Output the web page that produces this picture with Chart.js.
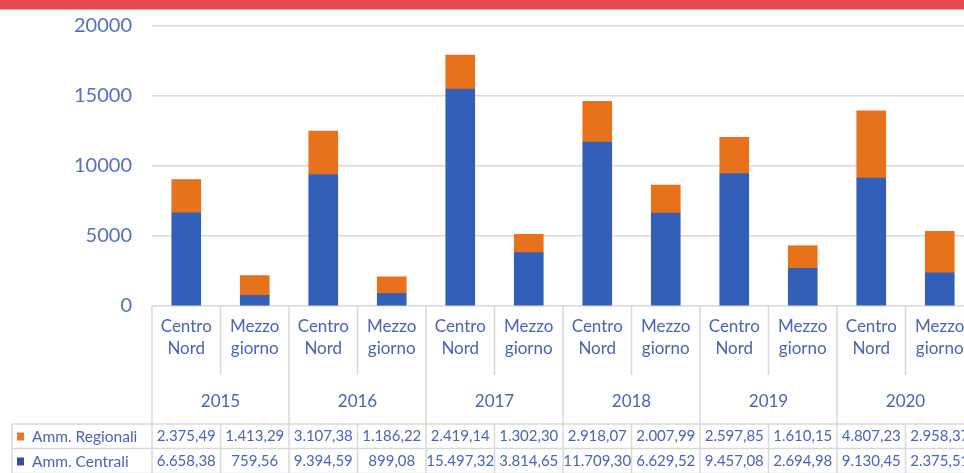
<!DOCTYPE html>
<html>
<head>
<meta charset="utf-8">
<script src="https://cdn.jsdelivr.net/npm/chart.js@4"></script>
<style>
  html, body { margin: 0; padding: 0; background: #fff; width: 964px; height: 473px; overflow: hidden; position: relative; }
  #banner { position: absolute; left: 0; top: 0; width: 964px; height: 9px; background: #E8464F; border-bottom: 1px solid #F2A2A6; z-index: 2; }
  #c { position: absolute; left: 0; top: 0; }
</style>
</head>
<body>
<div id="banner"></div>
<canvas id="c" width="980" height="473" style="width:980px;height:473px"></canvas>
<script>
const years = ['2015', '2016', '2017', '2018', '2019', '2020'];
const regions = [['Centro', 'Nord'], ['Mezzo', 'giorno']];
const seriesNames = ['Amm. Regionali', 'Amm. Centrali'];
// order: 2015 CN, 2015 MG, 2016 CN, 2016 MG, ...
const regionali = [2375.49, 1413.29, 3107.38, 1186.22, 2419.14, 1302.30, 2918.07, 2007.99, 2597.85, 1610.15, 4807.23, 2958.37];
const centrali  = [6658.38, 759.56, 9394.59, 899.08, 15497.32, 3814.65, 11709.30, 6629.52, 9457.08, 2694.98, 9130.45, 2375.51];
const yTicks = [0, 5000, 10000, 15000, 20000];

const categories = [];
years.forEach(y => regions.forEach(r => categories.push(r)));

const TEXT = '#4A64B6';
const GRID = '#D9D9D9';
const BLUE = '#3260B8';
const ORANGE = '#E8721C';

function fmt(v) {
  const parts = v.toFixed(2).split('.');
  return parts[0].replace(/\B(?=(\d{3})+(?!\d))/g, '.') + ',' + parts[1];
}

const layoutPlugin = {
  id: 'layoutPlugin',
  afterDraw(chart) {
    const ctx = chart.ctx;
    const xs = chart.scales.x;
    const area = chart.chartArea;
    const n = categories.length;
    const half = (xs.getPixelForValue(1) - xs.getPixelForValue(0)) / 2;
    const B = area.bottom;
    const tableTop = 424, row2 = 448.5, tableBottom = 474;
    const left = 12;
    const right = xs.getPixelForValue(n - 1) + half;

    ctx.save();
    ctx.strokeStyle = GRID;
    ctx.lineWidth = 1.5;
    const line = (x1, y1, x2, y2) => { ctx.beginPath(); ctx.moveTo(x1, y1); ctx.lineTo(x2, y2); ctx.stroke(); };

    for (let i = 0; i <= n; i++) {
      const px = i < n ? xs.getPixelForValue(i) - half : right;
      if (i % 2 === 0) {
        line(px, B, px, tableBottom);
      } else {
        line(px, B, px, 375);
        line(px, tableTop, px, tableBottom);
      }
    }
    line(left, tableTop, left, tableBottom);
    line(left, tableTop, right, tableTop);
    line(left, row2, right, row2);
    line(left, tableBottom - 0.5, right, tableBottom - 0.5);

    // category labels
    ctx.fillStyle = TEXT;
    ctx.textAlign = 'center';
    ctx.textBaseline = 'middle';
    ctx.font = '17px Lato';
    categories.forEach((lbl, i) => {
      const cx = xs.getPixelForValue(i);
      ctx.fillText(lbl[0], cx, 327);
      ctx.fillText(lbl[1], cx, 349);
    });
    // year labels
    years.forEach((y, j) => {
      const cx = (xs.getPixelForValue(2 * j) + xs.getPixelForValue(2 * j + 1)) / 2;
      ctx.fillText(y, cx, 402);
    });

    // data table
    const rows = [regionali, centrali];
    const rowY = [436.5, 461.5];
    const swatch = ['#E27A2A', '#34508F'];
    ctx.font = '15px Lato';
    rows.forEach((vals, r) => {
      vals.forEach((v, i) => {
        ctx.fillText(fmt(v), xs.getPixelForValue(i), rowY[r]);
      });
    });
    ctx.textAlign = 'left';
    ctx.font = '15.5px Lato';
    seriesNames.forEach((s, r) => {
      ctx.fillStyle = swatch[r];
      ctx.fillRect(17, rowY[r] - 4, 7, 8);
      ctx.fillStyle = TEXT;
      ctx.fillText(s, 32, rowY[r]);
    });
    ctx.restore();
  }
};

new Chart(document.getElementById('c'), {
  type: 'bar',
  data: {
    labels: categories.map((c, i) => years[Math.floor(i / 2)] + ' ' + c.join('')),
    datasets: [
      { label: seriesNames[1], data: centrali, backgroundColor: BLUE, barThickness: 29, borderWidth: 0 },
      { label: seriesNames[0], data: regionali, backgroundColor: ORANGE, barThickness: 29, borderWidth: 0 }
    ]
  },
  options: {
    responsive: false,
    animation: false,
    layout: { padding: { left: 0, right: 6, top: 26, bottom: 0 } },
    plugins: { legend: { display: false }, tooltip: { enabled: false }, title: { display: false } },
    scales: {
      x: {
        stacked: true,
        offset: true,
        grid: { display: false },
        border: { display: false },
        ticks: { display: false },
        afterFit(scale) { scale.height = 167; scale.paddingLeft = 0; scale.paddingRight = 0; scale.paddingTop = 0; scale.paddingBottom = 0; }
      },
      y: {
        stacked: true,
        min: 0,
        max: 20000,
        afterBuildTicks(scale) { scale.ticks = yTicks.map(v => ({ value: v })); },
        grid: { color: GRID, lineWidth: 1.5, drawTicks: false },
        border: { display: false },
        ticks: { color: '#5570C0', font: { family: 'Lato', size: 20 }, padding: 20, callback: v => String(v) },
        afterFit(scale) { scale.width = 152; scale.paddingTop = 0; scale.paddingBottom = 0; scale.paddingLeft = 0; scale.paddingRight = 0; }
      }
    }
  },
  plugins: [layoutPlugin]
});
</script>
</body>
</html>
